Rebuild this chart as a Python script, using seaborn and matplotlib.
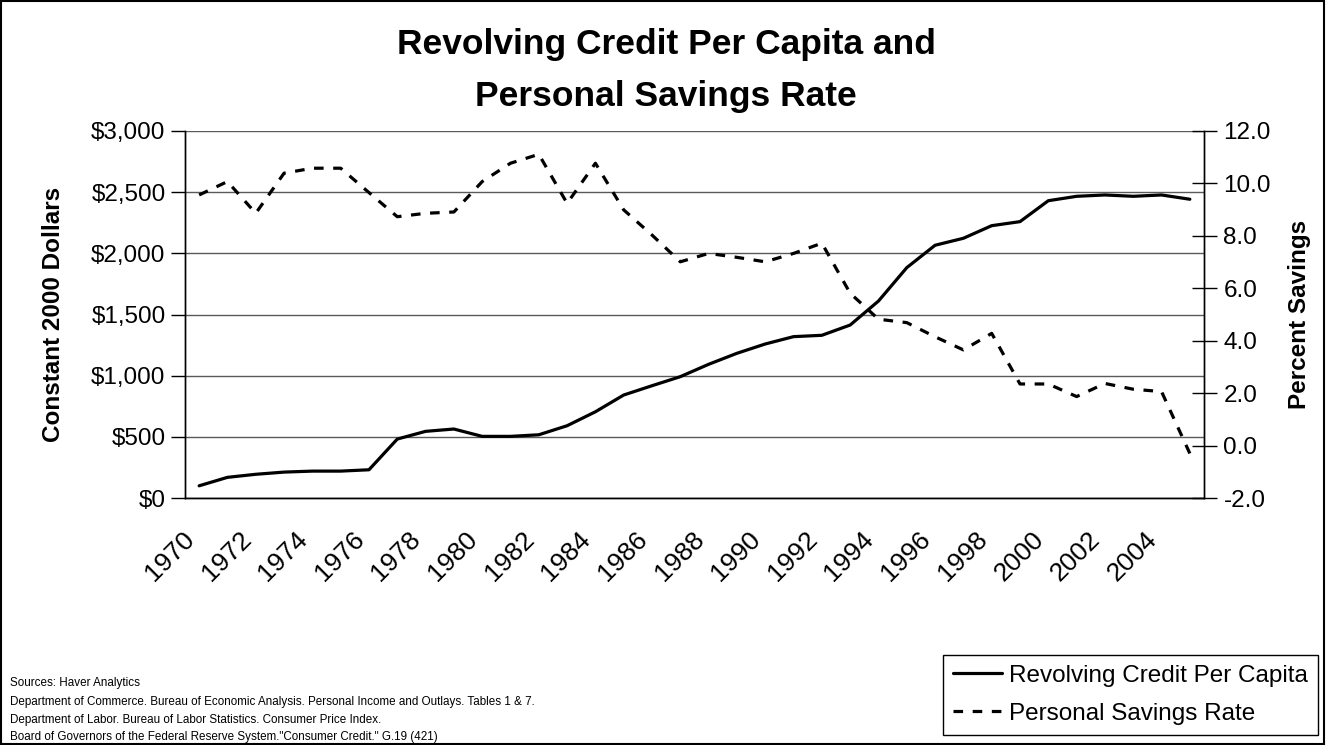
import matplotlib
matplotlib.use("Agg")
import matplotlib.pyplot as plt
import matplotlib.ticker as mticker
from matplotlib.patches import Rectangle
import seaborn as sns

years = list(range(1970, 2006))
credit = [100, 169, 194, 212, 220, 220, 231, 482, 545, 564,
          504, 504, 517, 591, 705, 842, 918, 992, 1093, 1183,
          1259, 1319, 1330, 1414, 1610, 1883, 2066, 2123, 2226, 2259,
          2430, 2466, 2477, 2466, 2477, 2442]
savings = [9.56, 10.07, 8.86, 10.39, 10.58, 10.58, 9.65, 8.73, 8.86, 8.91,
           10.07, 10.77, 11.11, 9.24, 10.77, 8.99, 8.03, 7.01, 7.33, 7.18,
           7.01, 7.33, 7.72, 5.81, 4.82, 4.69, 4.15, 3.65, 4.28, 2.35,
           2.35, 1.87, 2.37, 2.15, 2.06, -0.30]
tick_years = list(range(1970, 2005, 2))
sources = [
    "Sources: Haver Analytics",
    "Department of Commerce. Bureau of Economic Analysis. Personal Income and Outlays. Tables 1 & 7.",
    "Department of Labor. Bureau of Labor Statistics. Consumer Price Index.",
    'Board of Governors of the Federal Reserve System."Consumer Credit." G.19 (421)',
]

sns.set_style("white")
plt.rcParams['font.family'] = ['Liberation Sans', 'DejaVu Sans']
plt.rcParams['text.color'] = 'black'
plt.rcParams['axes.labelcolor'] = 'black'
plt.rcParams['xtick.color'] = 'black'
plt.rcParams['ytick.color'] = 'black'

fig = plt.figure(figsize=(13.27, 7.45), dpi=100)
ax = fig.add_axes([0.1394, 0.3315, 0.7679, 0.4927])
ax2 = ax.twinx()

sns.lineplot(x=years, y=credit, ax=ax, color='black', linewidth=2.3,
             label='Revolving Credit Per Capita', legend=False)
sns.lineplot(x=years, y=savings, ax=ax2, color='black', linewidth=2.3,
             label='Personal Savings Rate', legend=False)
ax2.lines[0].set_dashes([3, 3])

ax.set_xlim(1969.5, 2005.5)
ax.set_ylim(0, 3000)
ax2.set_ylim(-2, 12)

ax.set_yticks(range(0, 3001, 500))
ax.yaxis.set_major_formatter(mticker.FuncFormatter(lambda v, p: f"${v:,.0f}"))
ax2.set_yticks(range(-2, 13, 2))
ax2.yaxis.set_major_formatter(mticker.FormatStrFormatter('%.1f'))

# labels sit slightly left of the category centre, like the original
ax.set_xticks([y - 0.3 for y in tick_years])
ax.set_xticklabels([str(y) for y in tick_years], rotation=45, ha='right',
                   rotation_mode='anchor', va='center')
ax.set_xticks([y - 0.5 for y in years + [2006]], minor=True)
ax.tick_params(axis='x', which='major', length=0, pad=27, labelsize=19)
ax.tick_params(axis='x', which='minor', length=9, width=1, direction='out', color='black')
ax.tick_params(axis='y', length=10, width=1, direction='out', color='black',
               labelsize=17.5, pad=4, left=True)
ax2.tick_params(axis='y', length=18, width=1, direction='inout', color='black',
                labelsize=17.5, pad=5, right=True)

ax.grid(axis='y', color='#5a5a5a', linewidth=1)
ax.grid(axis='x', visible=False)
ax2.grid(False)

for a in (ax, ax2):
    a.spines['top'].set_visible(False)
    for s in ('left', 'bottom', 'right'):
        a.spines[s].set_color('black')
        a.spines[s].set_linewidth(1)

ax.set_ylabel("Constant 2000 Dollars", fontsize=17.5, fontweight='bold', labelpad=19)
ax2.set_ylabel("Percent Savings", fontsize=17.5, fontweight='bold', labelpad=12)

fig.text(0.502, 0.9396, "Revolving Credit Per Capita and", ha='center', va='center',
         fontsize=25.5, fontweight='bold')
fig.text(0.502, 0.8698, "Personal Savings Rate", ha='center', va='center',
         fontsize=25.5, fontweight='bold')

for txt, ypx in zip(sources, [683, 702, 720, 737]):
    fig.text(10 / 1327, 1 - ypx / 745, txt, ha='left', va='center', fontsize=8.4)

handles = [ax.lines[0], ax2.lines[0]]
labels = ['Revolving Credit Per Capita', 'Personal Savings Rate']
leg = fig.legend(handles, labels, loc='lower right', bbox_to_anchor=(1318 / 1327, 1 - 735 / 745),
                 fontsize=17.5, handlelength=2.0, handletextpad=0.3, labelspacing=0.65,
                 borderpad=0.42, borderaxespad=0, fancybox=False, framealpha=1)
leg.get_frame().set_edgecolor('black')
leg.get_frame().set_linewidth(1)

fig.patches.append(Rectangle((0.001, 0.001), 0.997, 0.997, transform=fig.transFigure,
                             fill=False, edgecolor='black', linewidth=1.5))

fig.savefig("out.png", dpi=100)
